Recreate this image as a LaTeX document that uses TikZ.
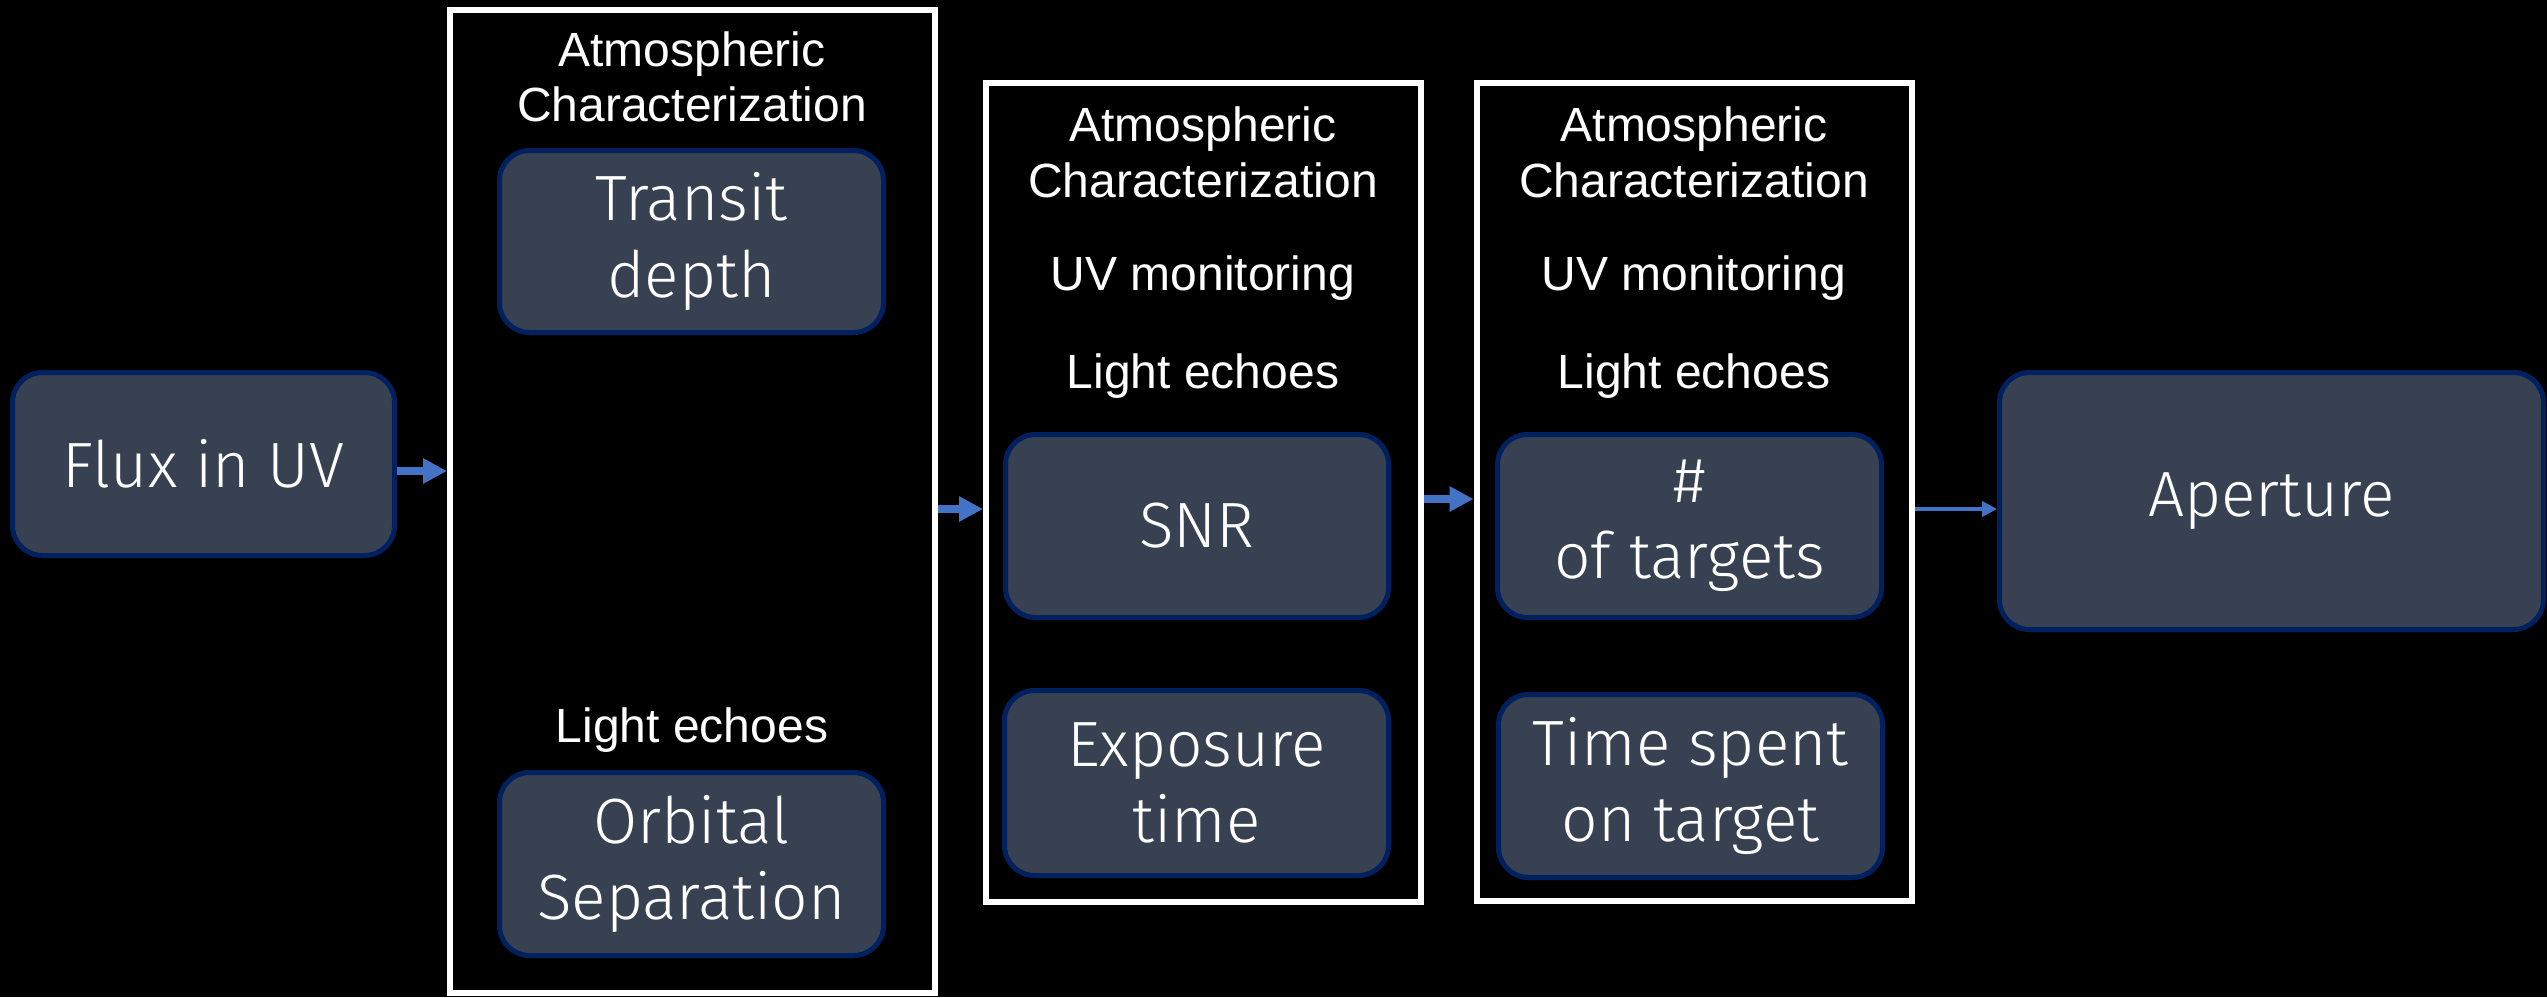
\documentclass[tikz,border=0pt]{standalone}
\usepackage{fontspec}
\setmainfont{Liberation Sans}
\newfontfamily\boxfont{Fira Sans Light}
\usetikzlibrary{arrows.meta}
\definecolor{nodefill}{RGB}{55,65,81}
\definecolor{nodeborder}{RGB}{0,32,96}
\definecolor{arrowblue}{RGB}{68,114,196}
\begin{document}
\begin{tikzpicture}[x=1pt,y=-1pt,
  frame/.style={draw=white, line width=6pt, inner sep=0pt},
  item/.style={draw=nodeborder, fill=nodefill, line width=5pt, rounded corners=30pt, inner sep=0pt,
    text=white, align=center, font=\boxfont\fontsize{64}{76.5}\selectfont},
  lbl/.style={text=white, inner sep=0pt, align=center, font=\fontsize{48}{55.5}\selectfont},
  arrthick/.style={draw=arrowblue, line width=7.5pt, -{Triangle[length=24pt,width=24pt]}},
  arrthin/.style={draw=arrowblue, line width=4pt, -{Triangle[length=15pt,width=15pt]}}
]
\fill[black] (0,0) rectangle (2547,997);
\useasboundingbox (0,0) rectangle (2547,997);

% frames
\node[frame, minimum width=484.5pt, minimum height=983.5pt] (box1) at (692.25,501.25) {};
\node[frame, minimum width=434.5pt, minimum height=818.5pt] (box2) at (1203.25,492.25) {};
\node[frame, minimum width=435.5pt, minimum height=818pt] (box3) at (1694.25,492) {};

% labels
\node[lbl] (l1a) at (692,77) {Atmospheric\\Characterization};
\node[lbl, anchor=base] (l1b) at (692,742) {Light echoes};
\node[lbl] (l2a) at (1203,152.5) {Atmospheric\\Characterization};
\node[lbl, anchor=base] (l2b) at (1203,290) {UV monitoring};
\node[lbl, anchor=base] (l2c) at (1203,388) {Light echoes};
\node[lbl] (l3a) at (1694,152.5) {Atmospheric\\Characterization};
\node[lbl, anchor=base] (l3b) at (1694,290) {UV monitoring};
\node[lbl, anchor=base] (l3c) at (1694,388) {Light echoes};

% items
\node[item, minimum width=382pt, minimum height=183pt] (flux) at (203.5,464) {Flux in UV};
\node[item, minimum width=384pt, minimum height=182pt] (transit) at (691.5,241.5) {Transit\\depth};
\node[item, minimum width=384pt, minimum height=183pt] (orbital) at (691.5,864) {Orbital\\Separation};
\node[item, minimum width=383pt, minimum height=183pt] (snr) at (1197,526) {SNR};
\node[item, minimum width=384pt, minimum height=185pt] (exposure) at (1196.5,783) {Exposure\\time};
\node[item, minimum width=384pt, minimum height=183pt] (targets) at (1689.5,526) {\#\\of targets};
\node[item, minimum width=384pt, minimum height=183pt] (timespent) at (1690.5,786) {Time spent\\on target};
\node[item, minimum width=544pt, minimum height=257pt] (aperture) at (2271.5,501) {Aperture};

% connectors
\coordinate (ya) at (0,471);
\coordinate (yb) at (0,509);
\coordinate (yc) at (0,499);
\coordinate (yd) at (0,509);
\draw[arrthick] (flux.east |- ya) -- (box1.west |- ya);
\draw[arrthick] (box1.east |- yb) -- (box2.west |- yb);
\draw[arrthick] (box2.east |- yc) -- (box3.west |- yc);
\draw[arrthin] (box3.east |- yd) -- (aperture.west |- yd);
\end{tikzpicture}
\end{document}
